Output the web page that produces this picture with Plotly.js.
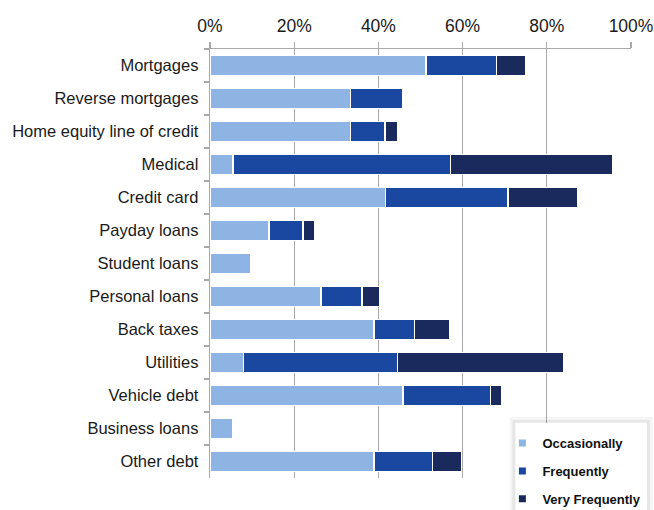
<!DOCTYPE html>
<html>
<head>
<meta charset="utf-8">
<script src="https://cdn.plot.ly/plotly-3.0.1.min.js"></script>
<style>
html,body{margin:0;padding:0;background:#fff;}
#chart{width:654px;height:510px;}
</style>
</head>
<body>
<div id="chart"></div>
<script>
var categories = ["Mortgages","Reverse mortgages","Home equity line of credit","Medical","Credit card","Payday loans","Student loans","Personal loans","Back taxes","Utilities","Vehicle debt","Business loans","Other debt"];
var occasionally   = [51.3, 33.4, 33.4, 5.5, 41.7, 14.0, 9.6, 26.4, 39.0, 7.9, 45.8, 5.3, 38.9];
var frequently     = [16.8, 12.3, 8.2, 51.6, 29.1, 8.1, 0, 9.7, 9.6, 36.6, 20.8, 0, 13.9];
var veryFrequently = [6.8, 0, 2.9, 38.5, 16.6, 2.8, 0, 4.2, 8.3, 39.5, 2.8, 0, 6.9];
var seriesNames = ["Occasionally","Frequently","Very Frequently"];
var tickVals = [0,20,40,60,80,100];
var tickText = ["0%","20%","40%","60%","80%","100%"];

var colors = ["#8db4e2","#1a47a0","#1b2a5c"];
var seriesData = [occasionally, frequently, veryFrequently];

var traces = seriesData.map(function(vals, i){
  return {
    type: "bar",
    orientation: "h",
    name: seriesNames[i],
    showlegend: false,
    y: categories,
    x: vals,
    marker: {color: colors[i], line: {color: "#ffffff", width: 1.5}},
    hoverinfo: "none"
  };
});
// legend-only entries (small square keys)
seriesNames.forEach(function(nm, i){
  traces.push({
    type: "scatter",
    mode: "markers",
    name: nm,
    legendgroup: "g" + i,
    x: [null],
    y: [null],
    marker: {symbol: "square", size: 7, color: colors[i]},
    hoverinfo: "none"
  });
});

var font = "'Liberation Sans', Arial, sans-serif";

var layout = {
  width: 654,
  height: 510,
  margin: {l: 209.5, r: 23.3, t: 48.5, b: 32, pad: 0, autoexpand: false},
  paper_bgcolor: "#ffffff",
  plot_bgcolor: "#ffffff",
  barmode: "stack",
  bargap: 0.395,
  font: {family: font, color: "#1a1a1a"},
  showlegend: true,
  xaxis: {
    side: "top",
    range: [0, 100],
    tickvals: tickVals,
    ticktext: tickText,
    showgrid: true,
    gridcolor: "#a9a9a9",
    gridwidth: 1.3,
    zeroline: false,
    showline: true,
    linecolor: "#a9a9a9",
    linewidth: 1.3,
    ticks: "outside",
    ticklen: 6,
    tickcolor: "#a9a9a9",
    tickwidth: 1.3,
    ticklabelstandoff: 3,
    tickfont: {family: font, size: 17.5, color: "#1a1a1a"},
    automargin: false,
    fixedrange: true
  },
  yaxis: {
    type: "category",
    autorange: "reversed",
    showline: true,
    linecolor: "#a9a9a9",
    linewidth: 1.3,
    ticks: "outside",
    tickson: "boundaries",
    ticklen: 5,
    tickcolor: "#a9a9a9",
    tickwidth: 1.3,
    showgrid: false,
    ticklabelstandoff: 7,
    tickfont: {family: font, size: 16.5, color: "#1a1a1a"},
    automargin: false,
    fixedrange: true
  },
  legend: {
    x: 0.6945,
    y: 0.1164,
    xanchor: "left",
    yanchor: "top",
    bgcolor: "rgba(0,0,0,0)",
    borderwidth: 0,
    traceorder: "grouped",
    tracegroupgap: 8,
    font: {family: font, size: 13, color: "#111111", weight: "bold"}
  },
  shapes: [
    {type: "rect", xref: "paper", yref: "paper", layer: "above",
     x0: 0.712, x1: 1.052, y0: -0.2, y1: 0.142,
     fillcolor: "rgba(0,0,0,0.04)", line: {width: 0}},
    {type: "rect", xref: "paper", yref: "paper", layer: "above",
     x0: 0.718, x1: 1.045, y0: -0.2, y1: 0.135,
     fillcolor: "rgba(0,0,0,0.06)", line: {width: 0}},
    {type: "rect", xref: "paper", yref: "paper", layer: "above",
     x0: 0.7253, x1: 1.038, y0: -0.2, y1: 0.1288,
     fillcolor: "#ffffff", line: {width: 0}}
  ]
};

Plotly.newPlot("chart", traces, layout, {displayModeBar: false, staticPlot: true});
</script>
</body>
</html>
